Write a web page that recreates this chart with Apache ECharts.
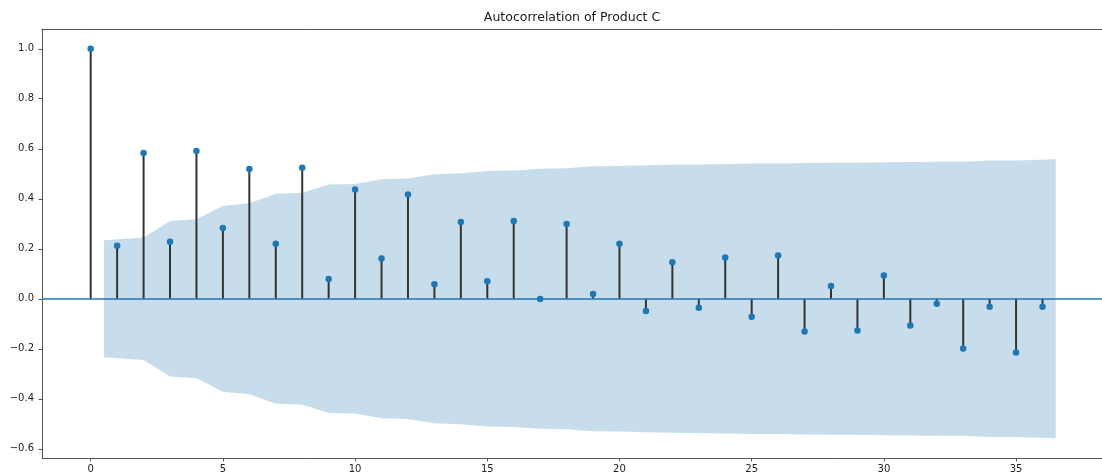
<!DOCTYPE html>
<html>
<head>
<meta charset="utf-8">
<title>Autocorrelation of Product C</title>
<script src="https://cdn.jsdelivr.net/npm/echarts@6/dist/echarts.min.js"></script>
<style>
  html, body { margin: 0; padding: 0; background: #ffffff; }
  #chart { width: 1102px; height: 473px; }
</style>
</head>
<body>
<div id="chart"></div>
<script>
// Lags 0..36 and their sample autocorrelations
const lags = [0, 1, 2, 3, 4, 5, 6, 7, 8, 9, 10, 11, 12, 13, 14, 15, 16, 17, 18,
              19, 20, 21, 22, 23, 24, 25, 26, 27, 28, 29, 30, 31, 32, 33, 34, 35, 36];
const acfValues = [1.000, 0.212, 0.583, 0.228, 0.591, 0.283, 0.519, 0.220, 0.524, 0.079,
                   0.437, 0.161, 0.417, 0.058, 0.307, 0.070, 0.311, -0.001, 0.299, 0.019,
                   0.220, -0.049, 0.146, -0.036, 0.165, -0.072, 0.173, -0.131, 0.051, -0.127,
                   0.093, -0.107, -0.020, -0.199, -0.032, -0.215, -0.032];

// Half-width of the 95% confidence band for lags 1..36
const confHalfWidth = [0.234, 0.245, 0.311, 0.318, 0.372, 0.382, 0.420, 0.424, 0.457, 0.459,
                       0.478, 0.481, 0.498, 0.502, 0.511, 0.513, 0.520, 0.522, 0.530, 0.531,
                       0.534, 0.536, 0.537, 0.539, 0.541, 0.541, 0.543, 0.544, 0.544, 0.546,
                       0.547, 0.548, 0.548, 0.553, 0.553, 0.558];

// Tick labels
const xTicks = [0, 5, 10, 15, 20, 25, 30, 35];
const yTicks = [-0.6, -0.4, -0.2, 0.0, 0.2, 0.4, 0.6, 0.8, 1.0];

const titleText = 'Autocorrelation of Product C';

// Band x positions: lags 1..36, outer ends widened by half a lag
const bandX = lags.slice(1).map(Number);
bandX[0] -= 0.5;
bandX[bandX.length - 1] += 0.5;
const bandUpper = bandX.map((x, i) => [x, confHalfWidth[i]]);
const bandLower = bandX.map((x, i) => [x, -confHalfWidth[i]]);

const stemData = lags.map((l, i) => [l, acfValues[i]]);

const FONT = 'DejaVu Sans';
const C0 = '#1f77b4';
const bandColor = 'rgba(31,119,180,0.25)';

const chart = echarts.init(document.getElementById('chart'), null, { renderer: 'canvas' });

const xMin = -1.842, xMax = 38.25;
const yMin = -0.637, yMax = 1.079;

const option = {
  backgroundColor: '#ffffff',
  animation: false,
  title: {
    text: titleText,
    left: 572,
    top: 11,
    padding: 0,
    textAlign: 'center',
    textStyle: { fontFamily: FONT, fontSize: 12.5, fontWeight: 'normal', color: '#1a1a1a' }
  },
  grid: { left: 42, right: 0, top: 29, bottom: 15, containLabel: false, outerBoundsMode: 'none' },
  xAxis: [{
    type: 'value',
    min: xMin, max: xMax,
    axisLine: { show: true, onZero: false, lineStyle: { color: '#555', width: 1 } },
    axisTick: { show: true, customValues: xTicks, length: 3.5, lineStyle: { color: '#555' } },
    axisLabel: {
      show: true, customValues: xTicks, margin: 6,
      fontFamily: FONT, fontSize: 10, color: '#222',
      formatter: v => String(v)
    },
    splitLine: { show: false }
  }, {
    type: 'value',
    position: 'top',
    min: xMin, max: xMax,
    axisLine: { show: true, onZero: false, lineStyle: { color: '#555', width: 1 } },
    axisTick: { show: false },
    axisLabel: { show: false },
    splitLine: { show: false }
  }],
  yAxis: {
    type: 'value',
    min: yMin, max: yMax,
    axisLine: { show: true, onZero: false, lineStyle: { color: '#555', width: 1 } },
    axisTick: { show: true, customValues: yTicks, length: 3.5, lineStyle: { color: '#555' } },
    axisLabel: {
      show: true, customValues: yTicks, margin: 8,
      fontFamily: FONT, fontSize: 10, color: '#222',
      formatter: v => v.toFixed(1).replace('-', '\u2212')
    },
    splitLine: { show: false }
  },
  series: [
    {
      // upper half of the confidence band
      type: 'line',
      data: bandUpper,
      showSymbol: false,
      silent: true,
      z: 1,
      lineStyle: { width: 0, opacity: 0 },
      areaStyle: { color: bandColor, opacity: 1, origin: 0 }
    },
    {
      // lower half of the confidence band
      type: 'line',
      data: bandLower,
      showSymbol: false,
      silent: true,
      z: 1,
      lineStyle: { width: 0, opacity: 0 },
      areaStyle: { color: bandColor, opacity: 1, origin: 0 }
    },
    {
      // zero reference line
      type: 'line',
      data: [],
      z: 3,
      markLine: {
        silent: true,
        symbol: ['none', 'none'],
        label: { show: false },
        lineStyle: { color: C0, width: 1.5, type: 'solid', opacity: 1 },
        data: [{ yAxis: 0 }]
      }
    },
    {
      // stems
      type: 'custom',
      data: stemData,
      z: 4,
      silent: true,
      renderItem: function (params, api) {
        const x = api.value(0);
        const p0 = api.coord([x, 0]);
        const p1 = api.coord([x, api.value(1)]);
        return {
          type: 'line',
          shape: { x1: p0[0], y1: p0[1], x2: p1[0], y2: p1[1] },
          style: { stroke: '#333333', lineWidth: 2 }
        };
      }
    },
    {
      // markers at each autocorrelation value
      type: 'scatter',
      data: stemData,
      z: 5,
      symbol: 'circle',
      symbolSize: 6.5,
      itemStyle: { color: C0, opacity: 1 }
    }
  ]
};

chart.setOption(option);
</script>
</body>
</html>
